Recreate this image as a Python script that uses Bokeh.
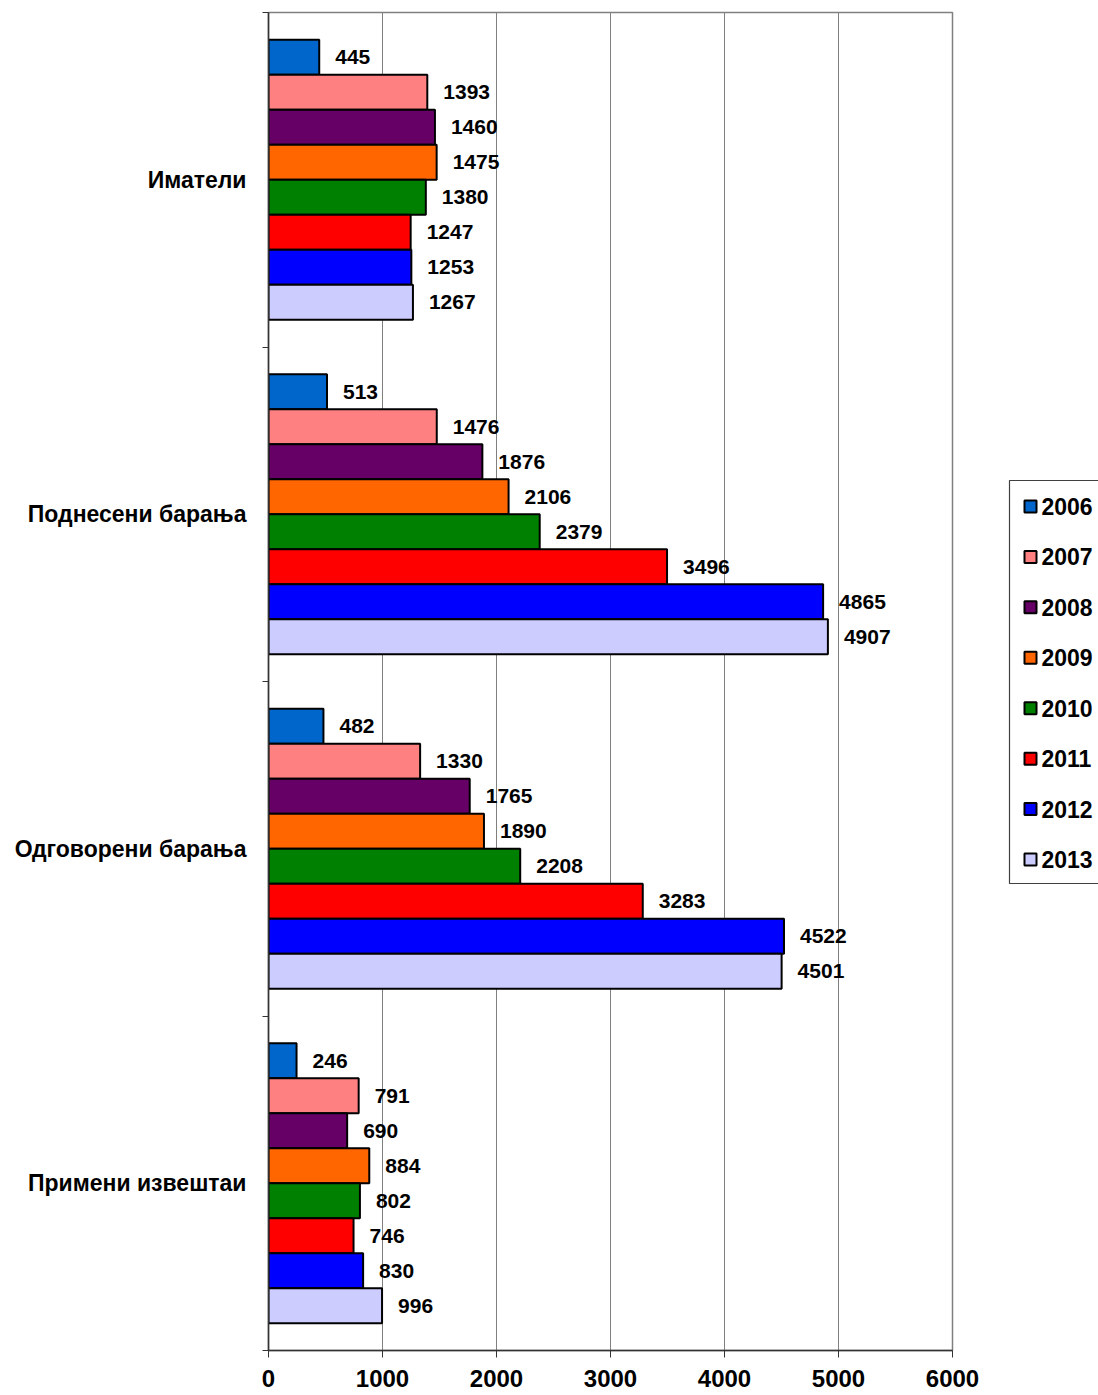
from bokeh.plotting import figure
from bokeh.models import Range1d, FixedTicker, ColumnDataSource
from bokeh.layouts import row
from bokeh.core.properties import value
from bokeh.embed import file_html
from bokeh.resources import INLINE

categories = ["Иматели", "Поднесени барања", "Одговорени барања", "Примени извештаи"]
years = ["2006", "2007", "2008", "2009", "2010", "2011", "2012", "2013"]
colors = ["#0066CC", "#FF8080", "#660066", "#FF6600", "#008000", "#FF0000", "#0000FF", "#CCCCFF"]

v2006 = [445, 513, 482, 246]
v2007 = [1393, 1476, 1330, 791]
v2008 = [1460, 1876, 1765, 690]
v2009 = [1475, 2106, 1890, 884]
v2010 = [1380, 2379, 2208, 802]
v2011 = [1247, 3496, 3283, 746]
v2012 = [1253, 4865, 4522, 830]
v2013 = [1267, 4907, 4501, 996]
series = [v2006, v2007, v2008, v2009, v2010, v2011, v2012, v2013]

x_ticks = [0, 1000, 2000, 3000, 4000, 5000, 6000]

FONT = "Liberation Sans"
ncat = len(categories)
nser = len(years)
bar_h = 0.837 / nser

TOP, FH, BOT = 12, 1338, 45

# ---------------- main chart ----------------
p = figure(frame_width=684, frame_height=FH, output_backend="svg", toolbar_location=None,
           x_range=Range1d(0, 6000), y_range=Range1d(0, ncat),
           min_border_left=268, min_border_top=TOP, min_border_bottom=BOT, min_border_right=30)
p.background_fill_color = "white"
p.border_fill_color = "white"
p.outline_line_color = "#808080"
p.outline_line_width = 1.5

centers = [ncat - 0.5 - i for i in range(ncat)]

for j, (yr, col, vals) in enumerate(zip(years, colors, series)):
    ys = [c + (nser / 2 - 0.5 - j) * bar_h for c in centers]
    src = ColumnDataSource(dict(y=ys, v=vals, lab=[str(v) for v in vals]))
    p.hbar(y="y", left=0, right="v", height=bar_h, source=src,
           fill_color=col, line_color="black", line_width=2)
    p.text(x="v", y="y", text="lab", source=src, x_offset=16, text_align="left",
           text_baseline="middle", text_font=value(FONT), text_font_style="bold",
           text_font_size="21px", text_color="black")

p.xgrid.grid_line_color = "#808080"
p.xgrid.grid_line_width = 1
p.ygrid.grid_line_color = None

p.xaxis.ticker = FixedTicker(ticks=x_ticks)
p.xaxis.major_label_text_font = FONT
p.xaxis.major_label_text_font_style = "bold"
p.xaxis.major_label_text_font_size = "24px"
p.xaxis.major_label_text_color = "black"
p.xaxis.major_tick_out = 7
p.xaxis.major_tick_in = 0
p.xaxis.minor_tick_line_color = None
p.xaxis.axis_line_color = "#333333"
p.xaxis.axis_line_width = 1.5
p.xaxis.major_tick_line_color = "#333333"
p.xaxis.major_label_standoff = 12

p.yaxis.ticker = FixedTicker(ticks=centers, minor_ticks=list(range(ncat + 1)))
p.yaxis.major_label_overrides = {c: cat for c, cat in zip(centers, categories)}
p.yaxis.major_label_text_font = FONT
p.yaxis.major_label_text_font_style = "bold"
p.yaxis.major_label_text_font_size = "23px"
p.yaxis.major_label_text_color = "black"
p.yaxis.major_tick_line_color = None
p.yaxis.minor_tick_out = 6
p.yaxis.minor_tick_in = 0
p.yaxis.minor_tick_line_color = "#333333"
p.yaxis.axis_line_color = "#333333"
p.yaxis.axis_line_width = 1.5
p.yaxis.major_label_standoff = 16

# ---------------- legend panel (page-pixel coordinates) ----------------
LW = 116
lf = figure(width=LW, height=TOP + FH + BOT, output_backend="svg", toolbar_location=None,
            x_range=Range1d(0, LW), y_range=Range1d(TOP + FH, TOP),
            min_border_left=0, min_border_right=0, min_border_top=TOP, min_border_bottom=BOT,
            x_axis_location=None, y_axis_location=None)
lf.outline_line_color = None
lf.grid.grid_line_color = None
lf.background_fill_color = "white"
lf.border_fill_color = "white"

box_left, box_top, box_bottom = 27, 480, 883
lf.quad(left=[box_left], right=[LW + 20], top=[box_top], bottom=[box_bottom],
        fill_color="white", line_color="#404040", line_width=1.2)

row_step = (box_bottom - box_top - 50) / (nser - 1)
leg_y = [box_top + 26 + i * row_step for i in range(nser)]
lsrc = ColumnDataSource(dict(y=leg_y, c=colors, t=years, gx=[48] * nser, tx=[59] * nser))
lf.rect(x="gx", y="y", width=12, height=12, width_units="screen", height_units="screen",
        fill_color="c", line_color="black", line_width=2, source=lsrc)
lf.text(x="tx", y="y", text="t", source=lsrc, text_align="left", text_baseline="middle",
        text_font=value(FONT), text_font_style="bold", text_font_size="23px",
        text_color="black")

layout = row(p, lf, spacing=0)
open("out.html", "w").write(file_html(layout, INLINE))
